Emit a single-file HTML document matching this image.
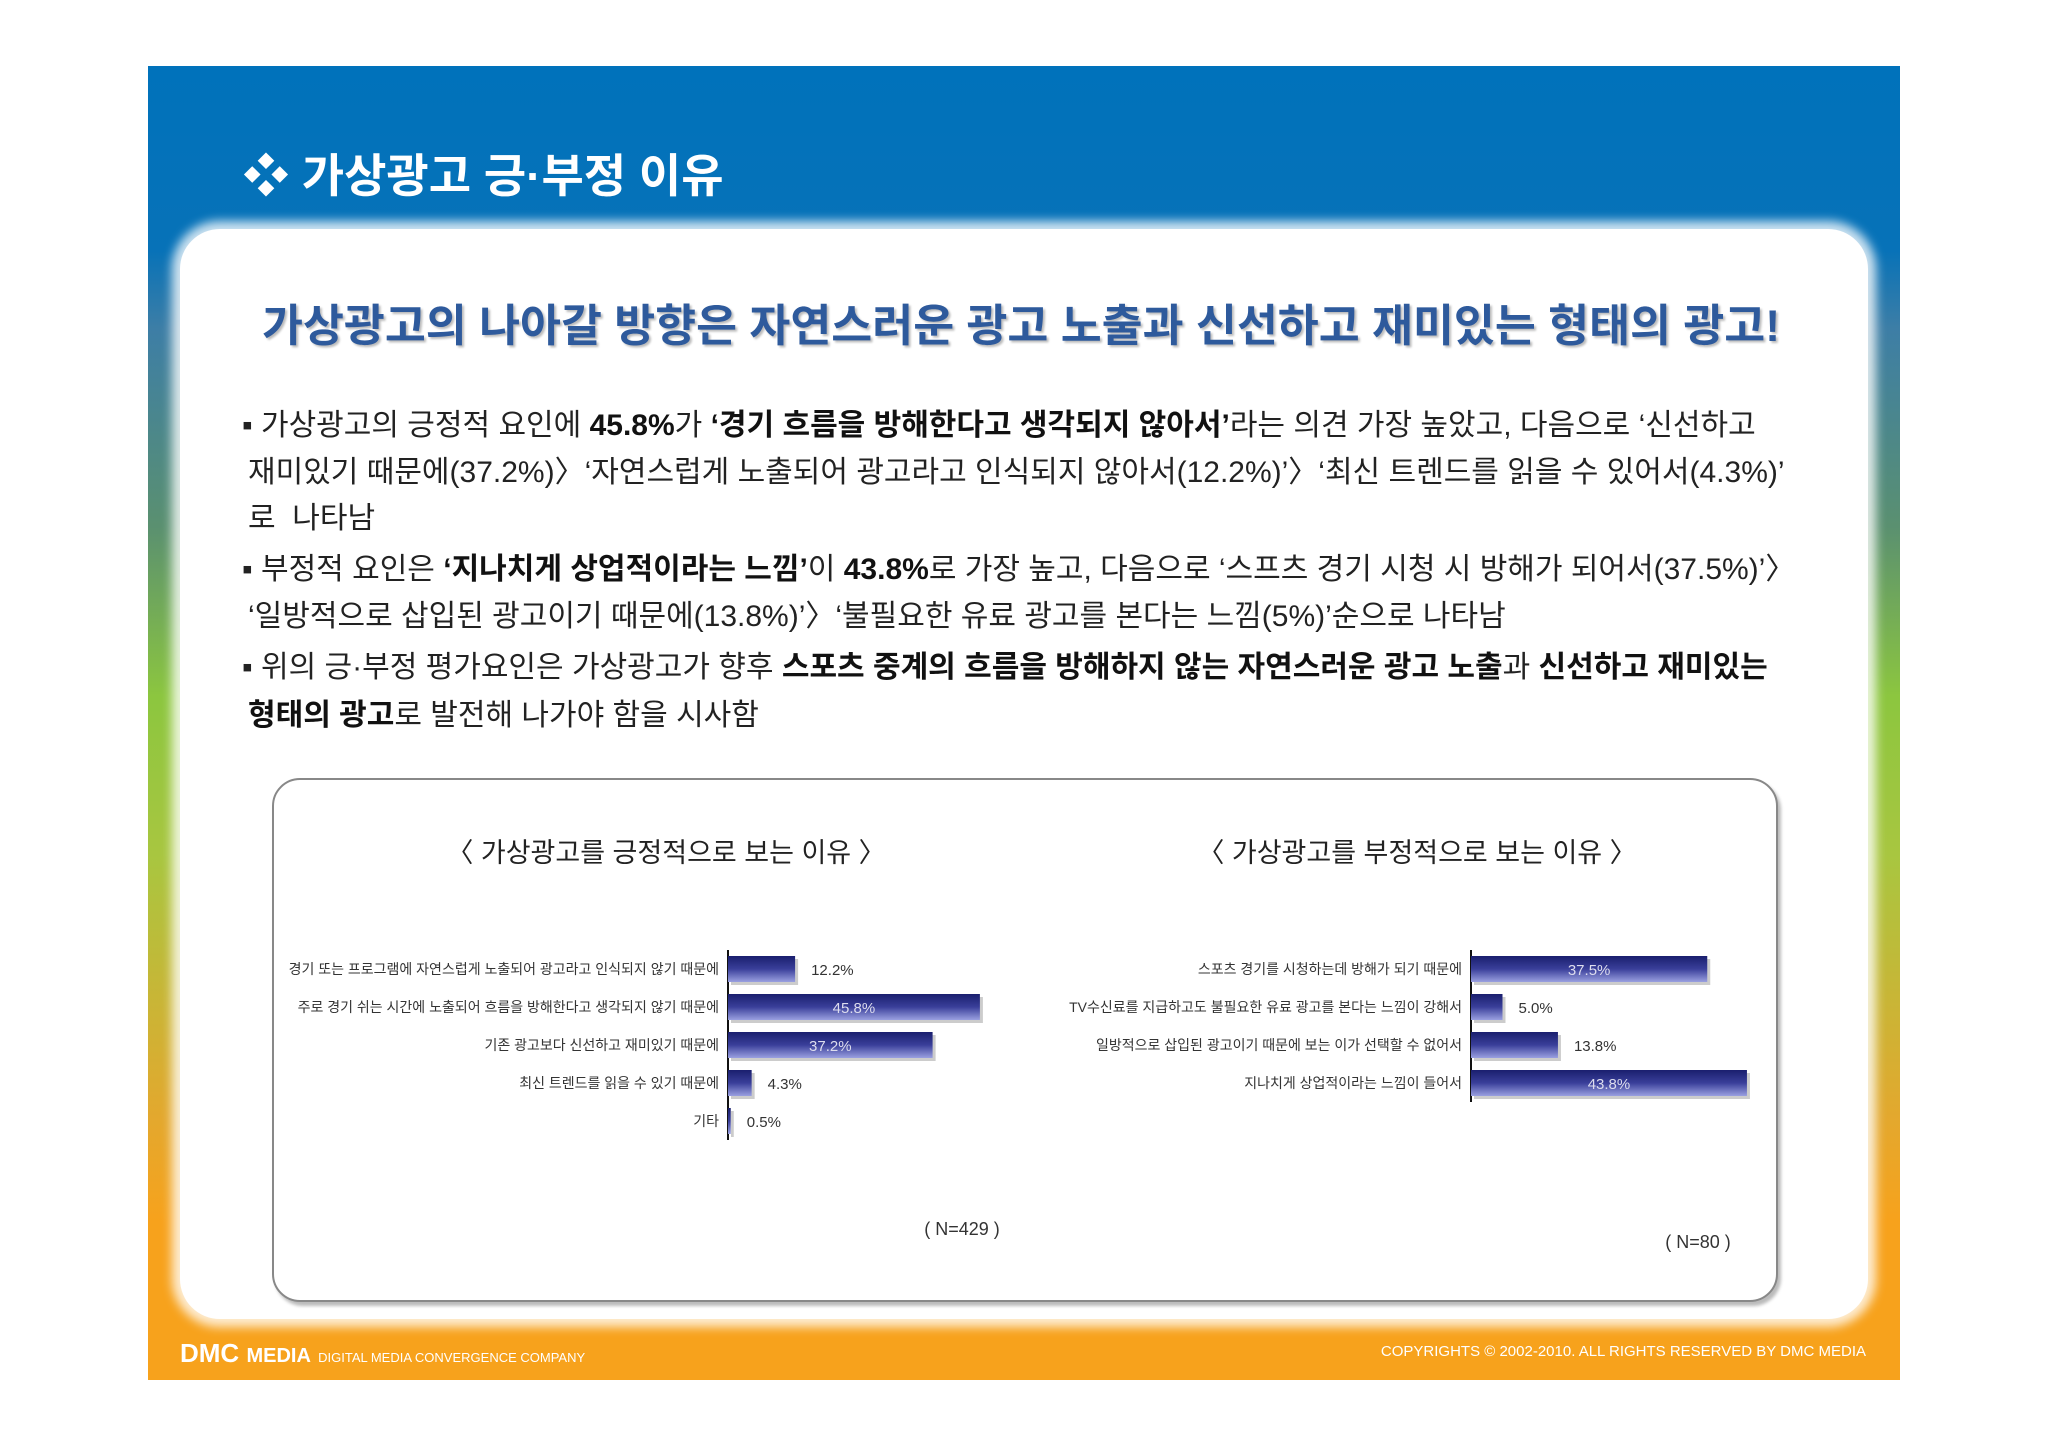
<!DOCTYPE html>
<html><head><meta charset="utf-8">
<style>
body{margin:0;width:2048px;height:1447px;background:#fff;position:relative;overflow:hidden;font-family:"Liberation Sans","Noto Sans CJK KR",sans-serif}
#bg{position:absolute;left:148px;top:66px;width:1752px;height:1314px;background:linear-gradient(to bottom,#0072bb 0%,#0772b8 14%,#3d7ea6 20%,#5a9070 35%,#8cc63f 48%,#a8c640 60%,#e3a82e 80%,#f7a21c 88%,#f7a21c 100%)}
#card{position:absolute;left:180px;top:229px;width:1688px;height:1090px;background:#fff;border-radius:40px;box-shadow:0 0 10px 8px rgba(255,255,255,0.8)}
.t{position:absolute;white-space:nowrap}
.bl{font-size:30px;color:#222;left:248px}
.bl b{color:#111}
#chartbox{position:absolute;left:272px;top:778px;width:1502px;height:520px;border:2px solid #888;border-radius:28px;background:#fff;box-shadow:3px 4px 3px #bbb}
</style></head><body>
<div id="bg"></div>
<div class="t" style="left:243px;top:140px;font-size:46px;color:#fff;font-weight:bold">❖ 가상광고 긍·부정 이유</div>
<div id="card"></div>
<div class="t" style="left:262px;top:289px;font-size:44.5px;font-weight:bold;color:#2e5a9c;text-shadow:2px 2px 2px #bbb">가상광고의 나아갈 방향은 자연스러운 광고 노출과 신선하고 재미있는 형태의 광고!</div>
<div class="t bl" style="left:242px;top:400px">▪ 가상광고의 긍정적 요인에 <b>45.8%</b>가 <b>‘경기 흐름을 방해한다고 생각되지 않아서’</b>라는 의견 가장 높았고, 다음으로 ‘신선하고</div>
<div class="t bl" style="top:447px">재미있기 때문에(37.2%)〉‘자연스럽게 노출되어 광고라고 인식되지 않아서(12.2%)’〉‘최신 트렌드를 읽을 수 있어서(4.3%)’</div>
<div class="t bl" style="top:493px">로 &nbsp;나타남</div>
<div class="t bl" style="left:242px;top:544px">▪ 부정적 요인은 <b>‘지나치게 상업적이라는 느낌’</b>이 <b>43.8%</b>로 가장 높고, 다음으로 ‘스프츠 경기 시청 시 방해가 되어서(37.5%)’〉</div>
<div class="t bl" style="top:591px">‘일방적으로 삽입된 광고이기 때문에(13.8%)’〉‘불필요한 유료 광고를 본다는 느낌(5%)’순으로 나타남</div>
<div class="t bl" style="left:242px;top:642px">▪ 위의 긍·부정 평가요인은 가상광고가 향후 <b>스포츠 중계의 흐름을 방해하지 않는 자연스러운 광고 노출</b>과 <b>신선하고 재미있는</b></div>
<div class="t bl" style="top:690px"><b>형태의 광고</b>로 발전해 나가야 함을 시사함</div>
<div id="chartbox"></div>
<svg id="charts" width="2048" height="1447" style="position:absolute;left:0;top:0">
<defs><linearGradient id="bg1" x1="0" y1="0" x2="0" y2="1"><stop offset="0" stop-color="#1a1f6e"/><stop offset="0.5" stop-color="#3a3f9a"/><stop offset="1" stop-color="#9aa0e0"/></linearGradient></defs>
</svg>
<div class="t" style="left:180px;top:1338px;font-size:26px;font-weight:bold;color:#fff">DMC <span style="font-size:20px">MEDIA</span> <span style="font-size:13px;font-weight:normal">DIGITAL MEDIA CONVERGENCE COMPANY</span></div>
<div class="t" style="right:182px;top:1343px;font-size:15px;color:#fff">COPYRIGHTS © 2002-2010. ALL RIGHTS RESERVED BY DMC MEDIA</div>
<script>
const posCats=["경기 또는 프로그램에 자연스럽게 노출되어 광고라고 인식되지 않기 때문에","주로 경기 쉬는 시간에 노출되어 흐름을 방해한다고 생각되지 않기 때문에","기존 광고보다 신선하고 재미있기 때문에","최신 트렌드를 읽을 수 있기 때문에","기타"];
const posVals=[12.2,45.8,37.2,4.3,0.5];
const negCats=["스포츠 경기를 시청하는데 방해가 되기 때문에","TV수신료를 지급하고도 불필요한 유료 광고를 본다는 느낌이 강해서","일방적으로 삽입된 광고이기 때문에 보는 이가 선택할 수 없어서","지나치게 상업적이라는 느낌이 들어서"];
const negVals=[37.5,5.0,13.8,43.8];
const svg=document.getElementById('charts');
const NS='http://www.w3.org/2000/svg';
function mk(tag,attrs,txt){const e=document.createElementNS(NS,tag);for(const k in attrs)e.setAttribute(k,attrs[k]);if(txt!==undefined)e.textContent=txt;svg.appendChild(e);return e;}
function chart(cats,vals,axisX,scale,title,titleX,nText,nX,nY,prefix){
  const t=mk('text',{x:titleX,y:862,'font-size':27,'text-anchor':'middle',fill:'#222','font-family':'"Liberation Sans","Noto Sans CJK KR",sans-serif'},title);
  
  
  const y0=956,step=38,bh=26;
  const ax=mk('line',{x1:axisX,x2:axisX,y1:y0-6,y2:y0+step*cats.length-6,stroke:'#111','stroke-width':2});
  
  
  cats.forEach((c,i)=>{
    const y=y0+i*step, w=vals[i]*scale;
    const sh=mk('rect',{x:axisX+3,y:y+3,width:w,height:bh,fill:'#ccc'});
    
    
    const r=mk('rect',{x:axisX,y:y,width:w,height:bh,fill:'url(#bg1)'});
    
    
    const l=mk('text',{x:axisX-9,y:y+bh/2+5,'font-size':14,'text-anchor':'end',fill:'#333','font-family':'"Liberation Sans","Noto Sans CJK KR",sans-serif'},c);
    
    
    const inside=w>120;
    const v=mk('text',{x:inside?axisX+w/2:axisX+w+16,y:y+bh/2+6,'font-size':15,'text-anchor':inside?'middle':'start',fill:inside?'#dde':'#333','font-family':'"Liberation Sans",sans-serif'},vals[i].toFixed(1)+'%');
    
    
  });
  const n=mk('text',{x:nX,y:nY,'font-size':18,'text-anchor':'middle',fill:'#333','font-family':'"Liberation Sans",sans-serif'},nText);
  
  
}
chart(posCats,posVals,728,5.5,'〈 가상광고를 긍정적으로 보는 이유 〉',666,'( N=429 )',962,1235,'positive');
chart(negCats,negVals,1471,6.3,'〈 가상광고를 부정적으로 보는 이유 〉',1417,'( N=80 )',1698,1248,'negative');
</script>
</body></html>
